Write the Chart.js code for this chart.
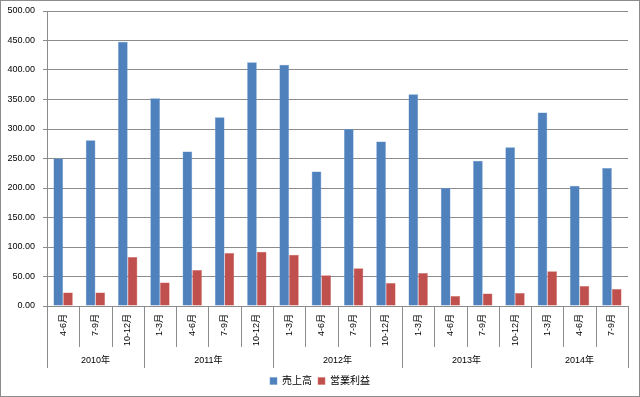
<!DOCTYPE html>
<html>
<head>
<meta charset="utf-8">
<script src="https://cdn.jsdelivr.net/npm/chart.js@4"></script>
<style>
  body { margin: 0; background: #fff; }
  #wrap { width: 638px; height: 395px; border: 1px solid #8c8c8c; position: relative; }
</style>
</head>
<body>
<div id="wrap"><canvas id="chart"></canvas></div>
<script>
const categories = ['4-6月', '7-9月', '10-12月', '1-3月', '4-6月', '7-9月', '10-12月', '1-3月', '4-6月', '7-9月', '10-12月', '1-3月', '4-6月', '7-9月', '10-12月', '1-3月', '4-6月', '7-9月'];
const years = ['2010年', '2011年', '2012年', '2013年', '2014年'];
const yearSizes = [3, 4, 4, 4, 3];
const sales = [250, 281, 448, 352, 262, 320, 413, 409, 228, 300, 279, 359, 200, 246, 269, 328, 204, 234];
const profit = [23, 23, 83, 40, 61, 90, 92, 87, 52, 64, 39, 56, 17, 21, 22, 59, 34, 29];

const FONT = '"Liberation Sans", "Noto Sans CJK JP", sans-serif';
const LINE = '#8c8c8c';

// 年ごとのグループ区切りと年ラベル
const groupAxis = {
    id: 'groupAxis',
    afterDraw(chart) {
        const x = chart.scales.x;
        const ctx = chart.ctx;
        const n = categories.length;
        const edge = i => {
            if (i === 0) return x.left;
            if (i === n) return x.right;
            return (x.getPixelForValue(i - 1) + x.getPixelForValue(i)) / 2;
        };
        const bounds = [0];
        yearSizes.forEach(s => bounds.push(bounds[bounds.length - 1] + s));

        ctx.save();
        ctx.strokeStyle = LINE;
        ctx.lineWidth = 1;
        for (let i = 0; i <= n; i++) {
            const px = Math.round(edge(i)) + 0.5;
            const len = bounds.includes(i) ? 62 : 41;
            ctx.beginPath();
            ctx.moveTo(px, x.top);
            ctx.lineTo(px, x.top + len);
            ctx.stroke();
        }
        ctx.fillStyle = '#000';
        ctx.font = '9px ' + FONT;
        ctx.textAlign = 'center';
        ctx.textBaseline = 'middle';
        years.forEach((y, k) => {
            const cx = (edge(bounds[k]) + edge(bounds[k + 1])) / 2;
            ctx.fillText(y, cx, x.top + 55);
        });
        ctx.restore();
    }
};

new Chart(document.getElementById('chart'), {
    type: 'bar',
    data: {
        labels: categories,
        datasets: [
            { label: '売上高', data: sales, backgroundColor: '#4f81bd', borderColor: '#6e9bd0', borderWidth: 0.5 },
            { label: '営業利益', data: profit, backgroundColor: '#c0504d', borderColor: '#d46e6b', borderWidth: 0.5 }
        ]
    },
    options: {
        responsive: true,
        maintainAspectRatio: false,
        animation: false,
        layout: { padding: { top: 10, right: 0, left: 0, bottom: 0 } },
        datasets: { bar: { categoryPercentage: 0.6, barPercentage: 1.0 } },
        plugins: {
            legend: {
                position: 'bottom',
                labels: {
                    boxWidth: 7, boxHeight: 7, padding: 6,
                    color: '#000',
                    font: { family: FONT, size: 10 }
                }
            },
            tooltip: { enabled: false }
        },
        scales: {
            x: {
                grid: { display: false, drawTicks: false },
                border: { display: true, color: LINE },
                ticks: {
                    autoSkip: false,
                    minRotation: 90, maxRotation: 90,
                    padding: 8,
                    color: '#000',
                    font: { family: FONT, size: 9 }
                },
                afterFit(scale) {
                    scale.height = 64;
                    scale.paddingRight = 11;
                }
            },
            y: {
                min: 0, max: 500,
                grid: { color: LINE, tickLength: 4 },
                border: { display: true, color: LINE },
                ticks: {
                    stepSize: 50,
                    padding: 8,
                    color: '#000',
                    font: { family: FONT, size: 9 },
                    callback: v => v.toFixed(2)
                },
                afterFit(scale) {
                    scale.width = 46;
                    scale.paddingTop = 0;
                    scale.paddingBottom = 0;
                }
            }
        }
    },
    plugins: [groupAxis]
});
</script>
</body>
</html>
